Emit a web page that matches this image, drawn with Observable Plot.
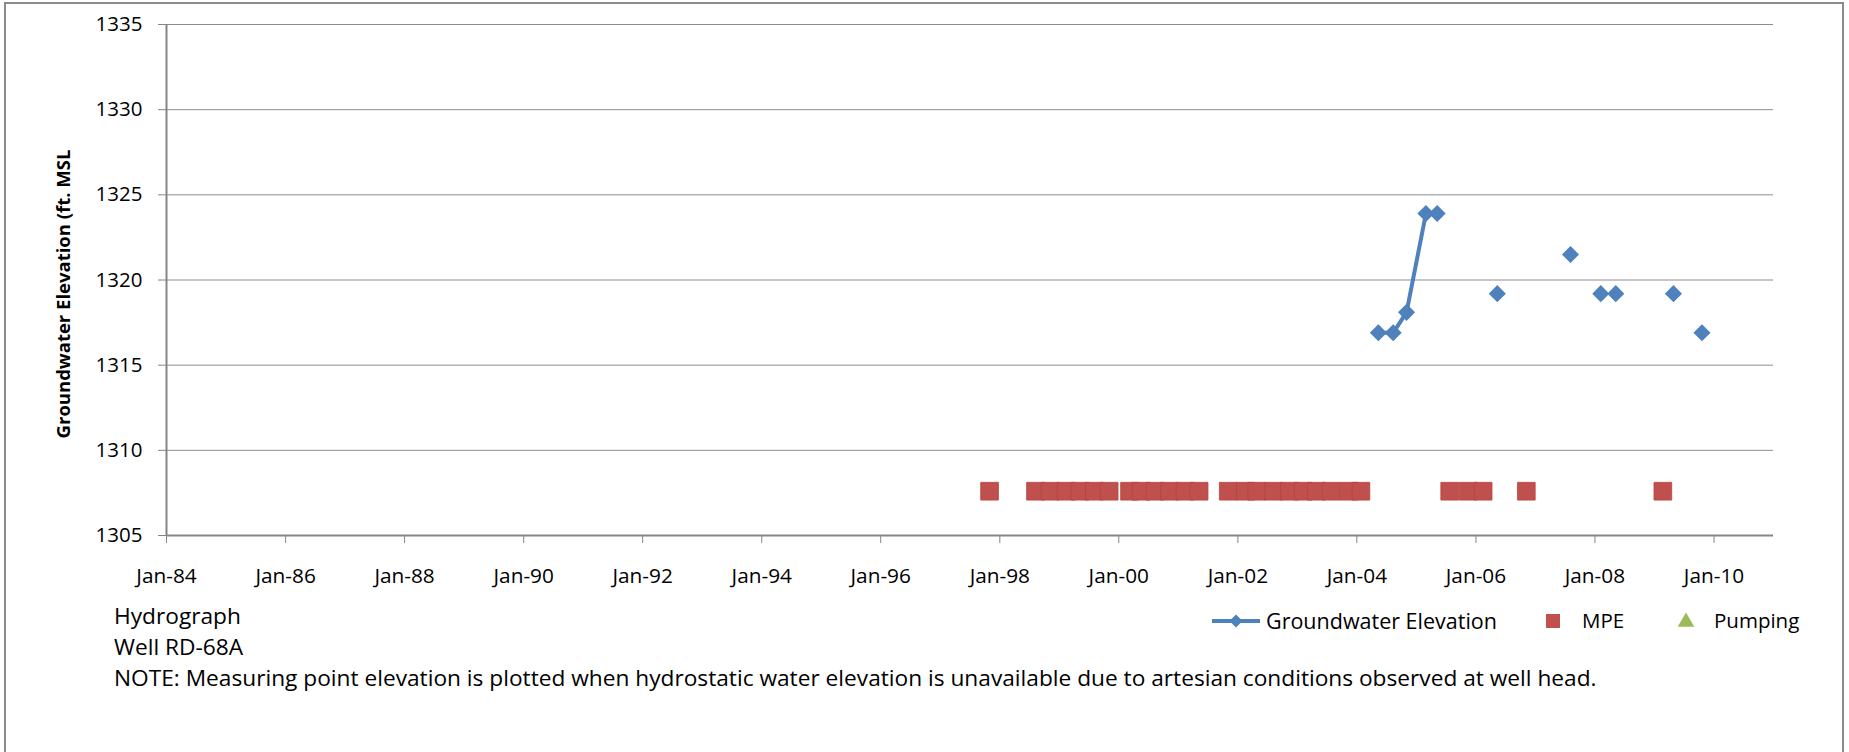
<!DOCTYPE html>
<html>
<head>
<meta charset="utf-8">
<script src="https://cdn.jsdelivr.net/npm/d3@7"></script>
<script src="https://cdn.jsdelivr.net/npm/@observablehq/plot@0.6"></script>
<style>
  html, body { margin: 0; padding: 0; background: #fff; }
  body { width: 1849px; height: 752px; position: relative; overflow: hidden; font-family: "Open Sans", sans-serif; }
  #frame { position: absolute; left: 4px; top: 2px; width: 1840px; height: 800px; border: 2px solid #8c8c8c; box-sizing: border-box; }
  #chart { position: absolute; left: 0; top: 0; }
  .cap { position: absolute; left: 114px; font-size: 22.7px; line-height: 22px; color: #000; white-space: nowrap; }
  #legsvg { position: absolute; left: 0; top: 0; }
</style>
</head>
<body>
<div id="frame"></div>
<div id="chart"></div>
<div class="cap" style="top:605px">Hydrograph</div>
<div class="cap" style="top:636px">Well RD-68A</div>
<div class="cap" style="top:667px">NOTE: Measuring point elevation is plotted when hydrostatic water elevation is unavailable due to artesian conditions observed at well head.</div>
<script>
// ---- Data ----
const gwDates = ["2004-05-12","2004-08-11","2004-11-01","2005-02-28","2005-05-08","2006-05-12","2007-08-04","2008-02-06","2008-05-08","2009-04-27","2009-10-19"];
const gwValues = [1316.9, 1316.9, 1318.1, 1323.9, 1323.9, 1319.2, 1321.5, 1319.2, 1319.2, 1319.2, 1316.9];
const gwSegment = [1, 1, 1, 1, 1, 2, 3, 4, 5, 6, 7];

const mpeDates = ["1997-10-30",
  "1998-08-08","1998-11-06","1999-02-12","1999-05-08","1999-08-04","1999-11-03",
  "2000-03-07","2000-05-18","2000-08-11","2000-11-07","2001-02-10","2001-05-08",
  "2001-11-03","2002-02-17","2002-04-27","2002-08-08","2002-11-14","2003-02-06","2003-04-27","2003-07-27","2003-11-14","2004-01-26",
  "2005-07-24","2005-11-14","2006-02-14","2006-11-06","2009-02-21"];
const mpeValues = [1307.6,
  1307.6,1307.6,1307.6,1307.6,1307.6,1307.6,
  1307.6,1307.6,1307.6,1307.6,1307.6,1307.6,
  1307.6,1307.6,1307.6,1307.6,1307.6,1307.6,1307.6,1307.6,1307.6,1307.6,
  1307.6,1307.6,1307.6,1307.6,1307.6];

const pumpingDates = [];
const pumpingValues = [];

const yTicks = [1305, 1310, 1315, 1320, 1325, 1330, 1335];
const xStart = "1984-01-01";
const xEnd = "2011-01-01";
const xTickStart = "1984-01-01";
const xTickEnd = "2010-01-01";
const yLabel = "Groundwater Elevation (ft. MSL";
const seriesNames = ["Groundwater Elevation", "MPE", "Pumping"];
const colors = ["#4F81BD", "#C0504D", "#9BBB59"];

// ---- Build tables ----
const gw = gwDates.map((d, i) => ({date: new Date(d), value: gwValues[i], seg: gwSegment[i]}));
const mpe = mpeDates.map((d, i) => ({date: new Date(d), value: mpeValues[i]}));
const pump = pumpingDates.map((d, i) => ({date: new Date(d), value: pumpingValues[i]}));
const xDomain = [new Date(xStart), new Date(xEnd)];
const xTicks = d3.utcYear.every(2).range(new Date(xTickStart), d3.utcDay.offset(new Date(xTickEnd), 1));

const axisGray = "#868686";

const chart = Plot.plot({
  width: 1849,
  height: 600,
  marginLeft: 166,
  marginRight: 76,
  marginTop: 24,
  marginBottom: 65,
  x: {type: "utc", domain: xDomain},
  y: {domain: [1305, 1335]},
  style: {fontFamily: "'Open Sans', sans-serif", fontSize: "20.5px", color: "#000", background: "transparent", overflow: "visible"},
  marks: [
    Plot.gridY(yTicks, {stroke: "#8c8c8c", strokeOpacity: 1, strokeWidth: 1}),
    Plot.axisY(yTicks, {tickSize: 8, tickPadding: 16, stroke: axisGray, label: null, fontSize: 20.5, tickFormat: d => String(d)}),
    Plot.axisX(xTicks, {tickSize: 8, tickPadding: 25, stroke: axisGray, label: null, fontSize: 20.8, tickFormat: d3.utcFormat("%b-%y")}),
    Plot.ruleX([xDomain[0]], {stroke: axisGray, strokeWidth: 2}),
    Plot.ruleY([1305], {stroke: axisGray, strokeWidth: 2}),
    Plot.text([yLabel], {frameAnchor: "left", rotate: -90, dx: -102, dy: 14, fontSize: 18.5, fontWeight: "bold", textAnchor: "middle", lineAnchor: "middle", fill: "#000"}),
    Plot.dot(mpe, {x: "date", y: "value", symbol: "square", r: 10, fill: colors[1], stroke: "#B8433F", strokeWidth: 0.8}),
    Plot.dot(pump, {x: "date", y: "value", symbol: "triangle", r: 8, fill: colors[2]}),
    Plot.line(gw, {x: "date", y: "value", z: "seg", stroke: colors[0], strokeWidth: 4}),
    Plot.dot(gw, {x: "date", y: "value", symbol: "diamond2", r: 7.7, fill: colors[0]})
  ]
});
document.getElementById("chart").appendChild(chart);

// ---- Legend ----
const legY = 621;
const lsvg = d3.select("body").append("svg").attr("id", "legsvg").attr("width", 1849).attr("height", 752);
lsvg.append("line").attr("x1", 1212).attr("x2", 1260).attr("y1", legY).attr("y2", legY).attr("stroke", colors[0]).attr("stroke-width", 4);
lsvg.append("path").attr("transform", `translate(1236,${legY})`).attr("d", d3.symbol(d3.symbolDiamond2, 110)()).attr("fill", colors[0]);
lsvg.append("rect").attr("x", 1546).attr("y", legY - 7).attr("width", 14).attr("height", 14).attr("fill", colors[1]);
lsvg.append("path").attr("transform", `translate(1686,${legY + 1})`).attr("d", d3.symbol(d3.symbolTriangle, 120)()).attr("fill", colors[2]);
const legX = [1266, 1582, 1714];
const legSize = [21.5, 20.5, 20.5];
seriesNames.forEach((n, i) => {
  lsvg.append("text").attr("x", legX[i]).attr("y", legY).attr("dy", "0.35em").attr("font-size", legSize[i]).attr("font-family", "'Open Sans', sans-serif").text(n);
});
</script>
</body>
</html>
